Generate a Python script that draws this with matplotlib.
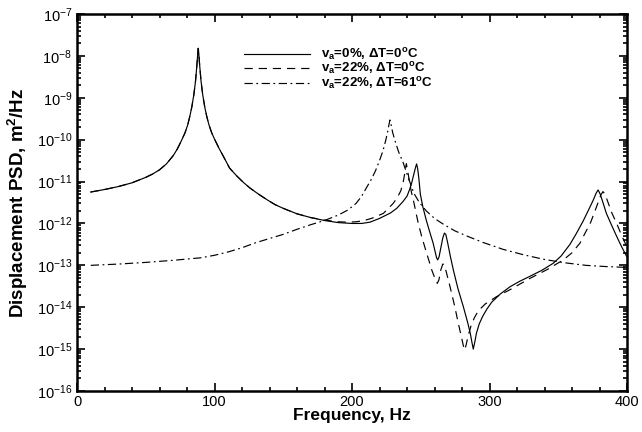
import matplotlib
matplotlib.use("Agg")
import matplotlib.pyplot as plt
from matplotlib.ticker import FixedLocator, MultipleLocator, NullFormatter, LogFormatterSciNotation

plt.rcParams['font.family'] = ['Liberation Sans', 'DejaVu Sans']
plt.rcParams['mathtext.fontset'] = 'custom'
plt.rcParams['mathtext.rm'] = 'Liberation Sans'
plt.rcParams['mathtext.it'] = 'Liberation Sans:italic'
plt.rcParams['mathtext.bf'] = 'Liberation Sans:bold'

# ---- data: log10 of displacement PSD ----
freq_solid = [10, 20, 30, 40, 50, 55, 60, 65, 70, 73, 76, 78.5, 80.5, 82, 83.5, 85, 86.2,
              87.2, 87.8, 88.2, 88.6, 89.2, 90.2, 91.4, 92.9, 94.4, 96, 98, 100.5, 103.5,
              106.5, 111, 116, 121, 126, 132, 138, 144, 150, 160, 170, 180, 190, 200, 207,
              213, 220, 228, 232.5, 237, 240, 242, 243.5, 245, 246.3, 247, 247.8, 248.7,
              249.7, 251.5, 254, 256.5, 259, 260.5, 261.5, 262.3, 263.3, 264.5, 266, 267.2,
              268.2, 269.5, 271.5, 273.7, 277, 281, 284, 286, 287.3, 288.2, 289.2, 290.5,
              292.5, 295, 298, 301.6, 308, 315, 322, 329.5, 338, 346.4, 352, 358.5, 363, 368,
              372, 375.5, 377.5, 379, 380.5, 382.5, 385, 388.5, 392.5, 396, 399.8]
log_solid = [-11.25, -11.19, -11.12, -11.03, -10.90, -10.82, -10.72, -10.58, -10.38, -10.22,
             -10.02, -9.84, -9.65, -9.45, -9.22, -8.92, -8.60, -8.22, -7.95, -7.82, -7.95,
             -8.22, -8.60, -8.92, -9.22, -9.45, -9.65, -9.84, -10.02, -10.22, -10.40, -10.68,
             -10.86, -11.02, -11.16, -11.30, -11.43, -11.55, -11.64, -11.77, -11.86, -11.93,
             -11.98, -12.00, -12.00, -11.97, -11.88, -11.75, -11.64, -11.48, -11.35, -11.18,
             -11.02, -10.82, -10.65, -10.58, -10.70, -10.95, -11.30, -11.60, -11.92, -12.20,
             -12.47, -12.68, -12.82, -12.87, -12.80, -12.60, -12.35, -12.23, -12.26, -12.45,
             -12.78, -13.11, -13.55, -13.99, -14.35, -14.62, -14.85, -15.00, -14.85, -14.62,
             -14.40, -14.22, -14.05, -13.88, -13.68, -13.51, -13.38, -13.26, -13.12, -12.95,
             -12.78, -12.50, -12.25, -11.95, -11.68, -11.44, -11.28, -11.20, -11.30, -11.50,
             -11.76, -12.02, -12.31, -12.55, -12.79]

freq_dash = [10, 20, 30, 40, 50, 55, 60, 65, 70, 73, 76, 78.5, 80.5, 82, 83.5, 85, 86.2,
             87.2, 87.8, 88.2, 88.6, 89.2, 90.2, 91.4, 92.9, 94.4, 96, 98, 100.5, 103.5,
             106.5, 111, 116, 121, 126, 132, 138, 144, 150, 160, 170, 180, 190, 197, 203,
             209, 215, 222.8, 230, 233, 235.5, 237.3, 238.5, 239.5, 240.5, 241.8, 243.2, 245,
             248.2, 251, 254.3, 258, 260.5, 262, 263.2, 264.5, 266, 267, 268.5, 271.3, 274.5,
             277.3, 279.5, 281, 282, 283, 284.5, 286.5, 289, 292, 297, 305, 315, 329.5, 342,
             353.7, 360, 365.8, 370, 373.5, 376.5, 379, 381, 382.5, 384, 386, 389, 392.5, 396,
             399.8]
log_dash = [-11.25, -11.19, -11.12, -11.03, -10.90, -10.82, -10.72, -10.58, -10.38, -10.22,
            -10.02, -9.84, -9.65, -9.45, -9.22, -8.92, -8.60, -8.22, -7.95, -7.82, -7.95,
            -8.22, -8.60, -8.92, -9.22, -9.45, -9.65, -9.84, -10.02, -10.22, -10.40, -10.68,
            -10.86, -11.02, -11.16, -11.30, -11.43, -11.55, -11.64, -11.77, -11.86, -11.92,
            -11.96, -11.97, -11.96, -11.93, -11.87, -11.76, -11.52, -11.38, -11.22, -11.00,
            -10.78, -10.57, -10.75, -11.00, -11.25, -11.50, -12.00, -12.35, -12.71, -13.11,
            -13.33, -13.43, -13.35, -13.12, -12.97, -12.98, -13.15, -13.51, -13.95, -14.38,
            -14.70, -14.92, -15.02, -14.90, -14.68, -14.45, -14.25, -14.08, -13.92, -13.75,
            -13.58, -13.31, -13.10, -12.87, -12.70, -12.47, -12.20, -11.98, -11.72, -11.50,
            -11.32, -11.24, -11.30, -11.48, -11.75, -12.00, -12.28, -12.55]

freq_dd = [10, 30, 50, 70, 90, 100, 110, 120, 130, 140, 150, 160, 170, 180, 190, 197, 203,
           207, 211, 214, 217, 220, 222.5, 224.5, 226, 227, 227.6, 228.3, 229.5, 231.5, 234,
           237, 240, 242.5, 245, 249, 254, 260, 267, 275, 285, 295, 310, 325, 340, 355, 370,
           385, 400]
log_dd = [-13.00, -12.97, -12.93, -12.88, -12.82, -12.76, -12.68, -12.58, -12.46, -12.36,
          -12.26, -12.14, -12.03, -11.93, -11.80, -11.68, -11.52, -11.35, -11.12, -10.95,
          -10.75, -10.50, -10.27, -10.02, -9.80, -9.62, -9.53, -9.62, -9.82, -10.05, -10.30,
          -10.53, -10.82, -11.05, -11.28, -11.50, -11.70, -11.88, -12.03, -12.18, -12.32,
          -12.45, -12.62, -12.75, -12.86, -12.94, -13.00, -13.03, -13.05]

y_decades = list(range(-16, -6))   # 1e-16 ... 1e-7

labels = ["v$_a$=0%, \u0394T=0$^o$C", "v$_a$=22%, \u0394T=0$^o$C", "v$_a$=22%, \u0394T=61$^o$C"]

fig = plt.figure(figsize=(6.42, 4.32), dpi=100)
ax = fig.add_axes([77/642, 1-391/432, 550/642, 377/432])

ax.plot(freq_solid, [10**v for v in log_solid], color='black', lw=0.85, ls='-', label=labels[0])
ax.plot(freq_dash, [10**v for v in log_dash], color='black', lw=0.85, ls=(0, (7, 5)), label=labels[1])
ax.plot(freq_dd, [10**v for v in log_dd], color='black', lw=0.85, ls=(0, (7, 3, 1.5, 3)), label=labels[2])

ax.set_yscale('log')
ax.set_xlim(0, 400)
ax.set_ylim(10.0**y_decades[0], 10.0**y_decades[-1])
ax.xaxis.set_major_locator(MultipleLocator(100))
ax.xaxis.set_minor_locator(MultipleLocator(20))
ax.yaxis.set_major_locator(FixedLocator([10.0**d for d in y_decades]))
ax.yaxis.set_major_formatter(LogFormatterSciNotation())
ax.yaxis.set_minor_locator(FixedLocator([m * 10.0**d for d in y_decades[:-1] for m in range(2, 10)]))
ax.yaxis.set_minor_formatter(NullFormatter())

ax.tick_params(which='both', direction='in', top=True, right=True, labelsize=10.5, width=1.2)
ax.tick_params(which='major', length=6)
ax.tick_params(which='minor', length=3)
ax.tick_params(axis='x', pad=3)
for s in ax.spines.values():
    s.set_linewidth(1.8)

ax.set_xlabel("Frequency, Hz", fontsize=12.5, fontweight='bold', labelpad=-1)
ax.set_ylabel("Displacement PSD, m$^2$/Hz", fontsize=13.5, fontweight='bold', labelpad=5)

plt.rcParams['mathtext.default'] = 'bf'
leg = ax.legend(loc='upper left', bbox_to_anchor=(160/550, 1-26/377), frameon=False,
                prop={'weight': 'bold', 'size': 9.5}, handlelength=5.0, handletextpad=0.85,
                labelspacing=-0.12, borderpad=0)

fig.savefig("out.png", dpi=100)
